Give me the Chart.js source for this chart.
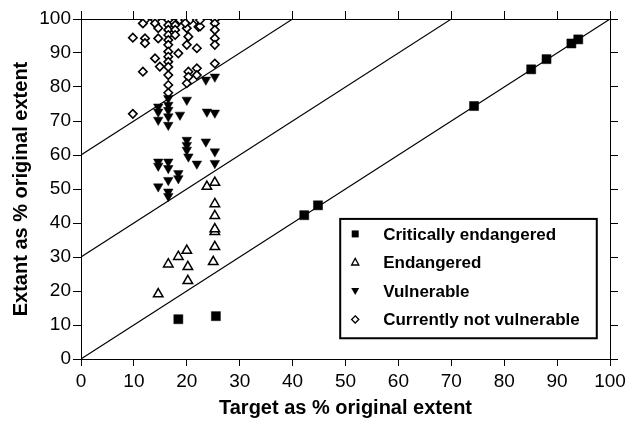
<!DOCTYPE html>
<html>
<head>
<meta charset="utf-8">
<script src="https://cdn.jsdelivr.net/npm/chart.js@4.4.0/dist/chart.umd.min.js"></script>
<style>
  html, body { margin: 0; padding: 0; background: #fff; }
  #wrap { width: 637px; height: 425px; }
</style>
</head>
<body>
<div id="wrap"><canvas id="grafico"></canvas></div>
<script>
const critX = [18.4, 25.5, 42.2, 44.8, 74.3, 85.1, 88.0, 92.7, 94.0];
const critY = [11.7, 12.6, 42.3, 45.2, 74.4, 85.2, 88.2, 92.8, 94.0];

const endX = [14.6, 16.5, 18.4, 20.0, 20.2, 20.2, 23.8, 25.3, 25.3, 25.3, 25.3, 25.3, 25.3, 25.0];
const endY = [19.1, 27.9, 30.1, 31.9, 27.1, 23.0, 50.7, 51.9, 45.6, 42.1, 37.4, 38.2, 33.0, 28.6];

const vulnX = [14.6, 14.6, 14.6, 16.5, 16.5, 16.5, 16.5, 16.5, 18.7, 20.0, 23.8, 25.3, 23.6, 25.3,
  20.0, 20.0, 20.0, 20.3, 21.9, 23.6, 25.3, 25.3, 14.6, 16.5, 14.6, 16.5, 18.4, 18.4, 16.5, 14.6, 16.5, 16.5];
const vulnY = [74.2, 72.7, 70.3, 76.7, 74.7, 73.2, 71.3, 68.8, 71.8, 76.2, 72.7, 72.4, 82.1, 83.0,
  64.4, 62.9, 61.5, 59.5, 57.4, 63.9, 61.0, 57.6, 58.0, 58.0, 56.8, 56.1, 54.6, 53.1, 52.6, 50.7, 49.2, 47.9];

const notX = [12.1, 14.0, 16.5, 18.7, 19.7, 20.6, 21.9, 11.7, 14.0, 14.6,
  16.5, 16.5, 16.5, 16.5, 16.5, 16.5, 16.5, 16.5, 16.5, 16.5, 16.5, 16.5,
  17.8, 17.8, 17.8, 20.0, 19.7, 20.3, 20.0, 22.2, 21.9, 18.4, 9.8, 12.1, 12.1, 14.6,
  14.0, 14.9, 11.7, 20.3, 20.3, 21.9, 21.9, 20.0,
  25.3, 25.3, 25.3, 25.3, 25.3, 25.3, 22.5, 22.5, 9.8];
const notY = [99.7, 99.7, 99.7, 99.7, 99.7, 99.7, 99.7, 98.7, 98.7, 97.3,
  98.2, 96.8, 95.3, 93.8, 92.4, 90.4, 88.9, 87.4, 85.9, 83.5, 80.6, 78.3,
  98.2, 96.8, 95.3, 97.3, 98.8, 94.8, 92.4, 97.7, 91.4, 89.9, 94.5, 94.3, 92.9, 94.3,
  88.4, 86.0, 84.5, 84.5, 83.0, 85.5, 83.5, 81.1,
  99.8, 98.7, 96.8, 94.3, 92.4, 86.9, 97.8, 99.7, 72.1];

// Líneas de referencia y = x + desplazamiento
const lineOffsets = [0, 30, 60];

const axisTicks = [0, 10, 20, 30, 40, 50, 60, 70, 80, 90, 100];

const legendLabels = ['Critically endangered', 'Endangered', 'Vulnerable', 'Currently not vulnerable'];

const FONT = "'Liberation Sans', Arial, Helvetica, sans-serif";

function puntos(xs, ys) {
  return xs.map((x, i) => ({ x: x, y: ys[i] }));
}

const datasets = [
  {
    label: legendLabels[0], data: puntos(critX, critY),
    pointStyle: 'rect', pointRadius: 6.4, backgroundColor: '#000', borderColor: '#000', borderWidth: 0.5, order: 0
  },
  {
    label: legendLabels[1], data: puntos(endX, endY),
    pointStyle: 'triangle', pointRadius: 5.5, backgroundColor: '#fff', borderColor: '#000', borderWidth: 1.5, order: 0
  },
  {
    label: legendLabels[2], data: puntos(vulnX, vulnY),
    pointStyle: 'triangle', rotation: 180, pointRadius: 5.5, backgroundColor: '#000', borderColor: '#000', borderWidth: 0.5, order: 0
  },
  {
    label: legendLabels[3], data: puntos(notX, notY),
    pointStyle: 'rectRot', pointRadius: 4.2, backgroundColor: '#fff', borderColor: '#000', borderWidth: 1.6, order: 0
  }
];

lineOffsets.forEach(off => {
  datasets.push({
    type: 'line', label: 'ref' + off,
    data: [{ x: 0, y: off }, { x: 100 - off, y: 100 }],
    borderColor: '#000', borderWidth: 1.1, pointRadius: 0, fill: false, order: 10
  });
});

// Marcadores de la leyenda
function marcador(ctx, tipo, x, y) {
  ctx.save();
  ctx.strokeStyle = '#000';
  ctx.fillStyle = '#000';
  ctx.lineWidth = 1.3;
  ctx.beginPath();
  if (tipo === 0) {
    ctx.rect(x - 3.5, y - 3.5, 7, 7);
    ctx.fill();
  } else if (tipo === 1) {
    ctx.moveTo(x, y - 4); ctx.lineTo(x + 3.6, y + 2.6); ctx.lineTo(x - 3.6, y + 2.6); ctx.closePath();
    ctx.stroke();
  } else if (tipo === 2) {
    ctx.moveTo(x, y + 4); ctx.lineTo(x + 4, y - 3); ctx.lineTo(x - 4, y - 3); ctx.closePath();
    ctx.fill();
  } else {
    ctx.moveTo(x, y - 3.6); ctx.lineTo(x + 3.6, y); ctx.lineTo(x, y + 3.6); ctx.lineTo(x - 3.6, y); ctx.closePath();
    ctx.stroke();
  }
  ctx.restore();
}

const legendPlugin = {
  id: 'legendaCaja',
  afterDraw(chart) {
    const ctx = chart.ctx;
    const xs = chart.scales.x;
    const ys = chart.scales.y;
    const left = xs.getPixelForValue(49.0);
    const right = xs.getPixelForValue(97.5);
    const top = ys.getPixelForValue(41.2);
    const bottom = ys.getPixelForValue(6.1);
    ctx.save();
    ctx.fillStyle = '#fff';
    ctx.fillRect(left, top, right - left, bottom - top);
    ctx.lineWidth = 2;
    ctx.strokeStyle = '#000';
    ctx.strokeRect(left, top, right - left, bottom - top);
    ctx.font = 'bold 17px ' + FONT;
    ctx.fillStyle = '#000';
    ctx.textBaseline = 'middle';
    legendLabels.forEach((lab, i) => {
      const y = top + 15 + i * 28.5;
      marcador(ctx, i, left + 15, y);
      ctx.fillStyle = '#000';
      ctx.fillText(lab, left + 43, y + 1);
    });
    ctx.restore();
  }
};

function escala(pos, conEtiquetas, tam, tick, titulo, relleno) {
  const horizontal = pos === 'top' || pos === 'bottom';
  return {
    type: 'linear', position: pos, min: 0, max: 100,
    afterBuildTicks: s => { s.ticks = axisTicks.map(v => ({ value: v })); },
    afterFit: s => { if (horizontal) s.height = tam; else s.width = tam; },
    ticks: {
      display: conEtiquetas, color: '#000', padding: horizontal ? 4 : 2,
      font: { family: FONT, size: 19 }, maxRotation: 0, autoSkip: false
    },
    grid: { display: true, drawOnChartArea: false, drawTicks: true, tickLength: tick, color: '#000', lineWidth: 1 },
    border: { display: true, color: '#000', width: 1 },
    title: titulo ? {
      display: true, text: titulo, color: '#000',
      font: { family: FONT, size: 20, weight: 'bold' }, padding: relleno
    } : { display: false }
  };
}

new Chart(document.getElementById('grafico').getContext('2d'), {
  type: 'scatter',
  data: { datasets: datasets },
  options: {
    responsive: true,
    maintainAspectRatio: false,
    animation: false,
    layout: { padding: 0 },
    plugins: { legend: { display: false }, tooltip: { enabled: false } },
    scales: {
      x: escala('bottom', true, 66, 7, 'Target as % original extent', { top: 0, bottom: 5 }),
      x2: escala('top', false, 19, 8),
      y: escala('left', true, 81, 8, 'Extant as % original extent', { top: 9, bottom: 0 }),
      y2: escala('right', false, 27, 8)
    }
  },
  plugins: [legendPlugin]
});
</script>
</body>
</html>
